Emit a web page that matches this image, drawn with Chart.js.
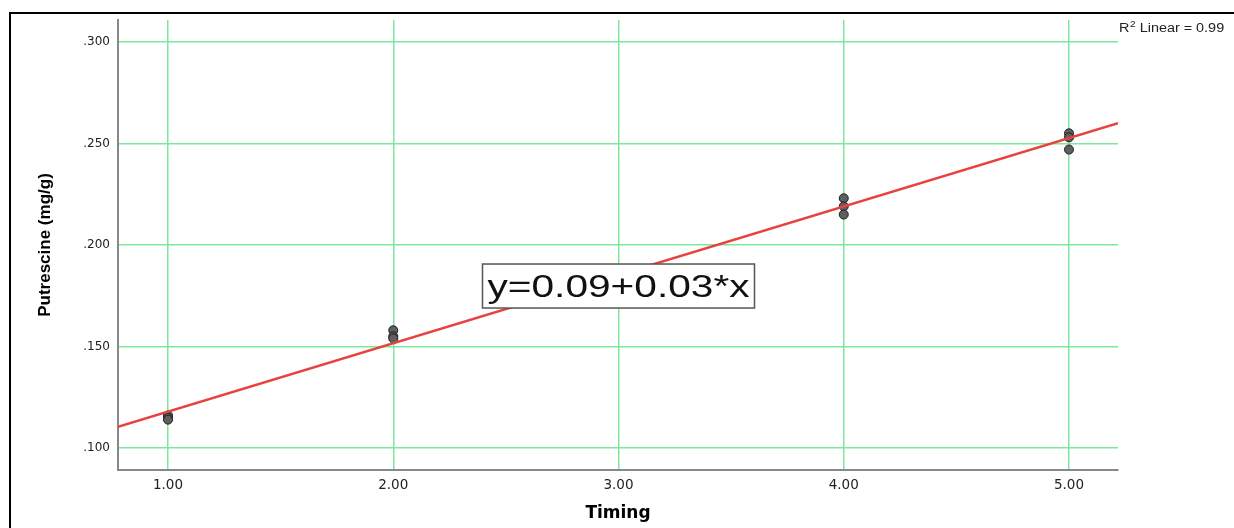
<!DOCTYPE html>
<html>
<head>
<meta charset="utf-8">
<script src="https://cdn.jsdelivr.net/npm/chart.js@4"></script>
<style>
  body { margin: 0; background: #fff; }
  #wrap { width: 1234px; height: 528px; position: relative; }
</style>
</head>
<body>
<div id="wrap"><canvas id="putrescineChart"></canvas></div>
<script>
// values
const timing = [1, 1, 1, 2, 2, 2, 4, 4, 4, 5, 5, 5];
const putrescine = [0.116, 0.115, 0.114, 0.158, 0.155, 0.154, 0.223, 0.219, 0.215, 0.255, 0.253, 0.247];
const xTicks = [1, 2, 3, 4, 5];
const yTicks = [0.10, 0.15, 0.20, 0.25, 0.30];
const equationText = 'y=0.09+0.03*x';
const rSquaredText = ' Linear = 0.99';
const xRange = [0.778, 5.2175];
const yRange = [0.0892, 0.3108];

const wideFont = '"DejaVu Sans", Verdana, sans-serif';
const arialFont = '"Liberation Sans", Arial, sans-serif';

// least squares fit of the points
const n = timing.length;
const mx = timing.reduce((a, b) => a + b, 0) / n;
const my = putrescine.reduce((a, b) => a + b, 0) / n;
let sxy = 0, sxx = 0;
for (let i = 0; i < n; i++) {
    sxy += (timing[i] - mx) * (putrescine[i] - my);
    sxx += (timing[i] - mx) * (timing[i] - mx);
}
const slope = sxy / sxx;
const intercept = my - slope * mx;
const fitLine = xRange.map(x => ({ x: x, y: intercept + slope * x }));

const ctxPutrescine = document.getElementById('putrescineChart');

const extrasPlugin = {
    id: 'extras',
    beforeDraw(chart) {
        const c = chart.ctx;
        c.save();
        c.fillStyle = '#fff';
        c.fillRect(0, 0, chart.width, chart.height);
        c.restore();
    },
    afterDatasetsDraw(chart) {
        const c = chart.ctx;
        const xs = chart.scales.x, ys = chart.scales.y;
        // equation box
        const cx = xs.getPixelForValue(3.0);
        const cy = ys.getPixelForValue(0.1798);
        const w = 272, h = 44;
        c.save();
        c.fillStyle = '#fff';
        c.fillRect(cx - w / 2, cy - h / 2, w, h);
        c.strokeStyle = '#555';
        c.lineWidth = 1.5;
        c.strokeRect(cx - w / 2, cy - h / 2, w, h);
        // text is stretched sideways like the original export
        c.translate(cx, cy + 2);
        c.scale(1.27, 1);
        c.font = '32px ' + arialFont;
        c.fillStyle = '#111';
        c.textAlign = 'center';
        c.textBaseline = 'middle';
        c.fillText(equationText, 0, 0);
        c.restore();
    },
    afterDraw(chart) {
        const c = chart.ctx;
        const area = chart.chartArea;
        c.save();
        // R squared note
        c.translate(area.right + 1, 32);
        c.scale(1.2, 1);
        c.fillStyle = '#222';
        c.font = '12px ' + arialFont;
        c.textBaseline = 'alphabetic';
        let tx = 0;
        c.fillText('R', tx, 0);
        tx += c.measureText('R').width;
        c.font = '8.5px ' + arialFont;
        c.fillText('2', tx + 0.5, -5);
        tx += c.measureText('2').width + 0.5;
        c.font = '12px ' + arialFont;
        c.fillText(rSquaredText, tx, 0);
        c.restore();
        // outer frame
        c.save();
        c.strokeStyle = '#000';
        c.lineWidth = 2;
        c.beginPath();
        c.moveTo(10, chart.height);
        c.lineTo(10, 13);
        c.lineTo(chart.width, 13);
        c.stroke();
        c.restore();
    }
};

const configPutrescine = {
    type: 'scatter',
    data: {
        datasets: [{
            type: 'line',
            label: 'Linear',
            data: fitLine,
            borderColor: 'rgb(232, 66, 62)',
            borderWidth: 2.5,
            pointRadius: 0,
            fill: false
        }, {
            label: 'Putrescine',
            data: timing.map((t, i) => ({ x: t, y: putrescine[i] })),
            backgroundColor: 'rgb(95, 95, 95)',
            borderColor: 'rgb(30, 30, 30)',
            borderWidth: 1,
            pointRadius: 4.5
        }]
    },
    plugins: [extrasPlugin],
    options: {
        responsive: true,
        maintainAspectRatio: false,
        animation: false,
        layout: {
            padding: { left: 0, top: 20, right: 116, bottom: 0 }
        },
        plugins: {
            legend: { display: false },
            tooltip: { enabled: false }
        },
        scales: {
            x: {
                type: 'linear',
                min: xRange[0],
                max: xRange[1],
                afterBuildTicks: scale => { scale.ticks = xTicks.map(v => ({ value: v })); },
                afterFit: scale => { scale.height = 58; },
                grid: { color: 'rgb(125, 232, 155)', lineWidth: 1.5, drawTicks: false },
                border: { color: '#888', width: 2 },
                ticks: {
                    padding: 7,
                    color: '#222',
                    font: { family: wideFont, size: 13.5 },
                    callback: v => v.toFixed(2)
                },
                title: {
                    display: true,
                    text: 'Timing',
                    color: '#000',
                    padding: { top: 0, bottom: 4 },
                    font: { family: wideFont, size: 17, weight: 'bold' }
                }
            },
            y: {
                min: yRange[0],
                max: yRange[1],
                afterBuildTicks: scale => { scale.ticks = yTicks.map(v => ({ value: v })); },
                afterFit: scale => { scale.width = 118; },
                grid: { color: 'rgb(125, 232, 155)', lineWidth: 1.5, drawTicks: false },
                border: { color: '#888', width: 2 },
                ticks: {
                    padding: 8,
                    color: '#222',
                    font: { family: wideFont, size: 12 },
                    callback: v => v.toFixed(3).replace(/^0/, '')
                },
                title: {
                    display: true,
                    text: 'Putrescine (mg/g)',
                    color: '#000',
                    padding: { top: 35, bottom: 0 },
                    font: { family: arialFont, size: 17, weight: 'bold' }
                }
            }
        }
    }
};

const scatterPutrescine = new Chart(ctxPutrescine, configPutrescine);
</script>
</body>
</html>
